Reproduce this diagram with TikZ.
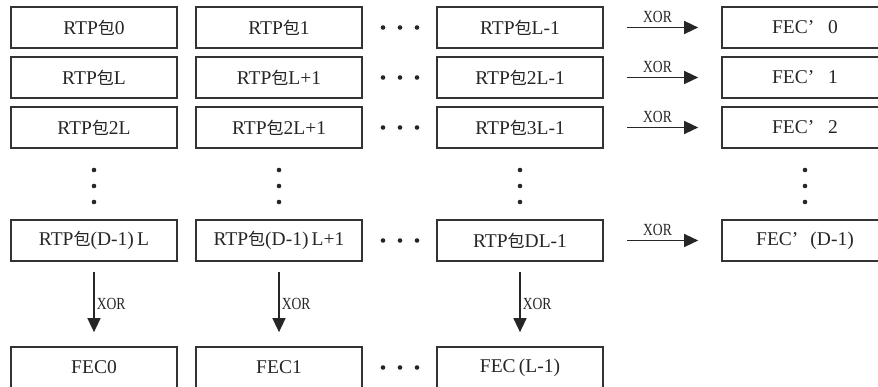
\documentclass[tikz,border=0pt]{standalone}
\usepackage{fontspec}
\setmainfont{Liberation Serif}
\newfontfamily\cjk{Noto Sans CJK SC}
\newfontfamily\xorfont[FakeStretch=0.8]{Liberation Serif}
\usetikzlibrary{arrows.meta}
\newcommand{\bao}{{\cjk\fontsize{17}{17}\selectfont 包}}
\begin{document}
\begin{tikzpicture}[x=1pt,y=-1pt,
  cell/.style={draw=black!80,line width=1.7pt,minimum width=166pt,minimum height=41pt,
    inner sep=0pt,font=\fontsize{19.5}{21}\selectfont,text=black!85},
  arr/.style={draw=black!85,line width=1.5pt,-{Triangle[length=14pt,width=13pt]}},
  lab/.style={font=\xorfont\fontsize{17}{18}\selectfont,text=black!85,inner sep=1pt},
  dot/.style={fill=black!85,draw=none,circle,minimum size=4.6pt,inner sep=0pt}]
\useasboundingbox (0,0) rectangle (878,387);
\clip (0,0) rectangle (878,387);
\fill[white] (0,0) rectangle (878,387);
% column centres: 94, 279, 520, 805 ; row centres: 27.5, 77.5, 127.5, 240.5, 367.5
\node[cell] (a1) at (94,27.5) {RTP\bao 0};
\node[cell] (b1) at (279,27.5) {RTP\bao 1};
\node[cell] (c1) at (520,27.5) {RTP\bao L-1};
\node[cell] (d1) at (805,27.5) {FEC’\hspace{14pt}0};
\node[cell] (a2) at (94,77.5) {RTP\bao L};
\node[cell] (b2) at (279,77.5) {RTP\bao L+1};
\node[cell] (c2) at (520,77.5) {RTP\bao 2L-1};
\node[cell] (d2) at (805,77.5) {FEC’\hspace{14pt}1};
\node[cell] (a3) at (94,127.5) {RTP\bao 2L};
\node[cell] (b3) at (279,127.5) {RTP\bao 2L+1};
\node[cell] (c3) at (520,127.5) {RTP\bao 3L-1};
\node[cell] (d3) at (805,127.5) {FEC’\hspace{14pt}2};
\node[cell] (a4) at (94,240.5) {RTP\bao(D-1)\,L};
\node[cell] (b4) at (279,240.5) {RTP\bao(D-1)\,L+1};
\node[cell] (c4) at (520,240.5) {RTP\bao DL-1};
\node[cell] (d4) at (805,240.5) {FEC’\hspace{12pt}(D-1)};
\node[cell] (a5) at (94,367.5) {FEC0};
\node[cell] (b5) at (279,367.5) {FEC1};
\node[cell] (c5) at (520,367.5) {FEC\,(L-1)};
% horizontal XOR arrows
\foreach \r in {1,2,3,4}{
  \draw[arr,shorten <=23pt,shorten >=23pt] (c\r.east) -- (d\r.west)
    node[lab,midway,above=3pt,xshift=-5pt] {XOR};
}
% vertical XOR arrows
\foreach \c in {a,b,c}{
  \draw[arr,shorten <=10pt,shorten >=14pt] (\c4.south) -- (\c5.north)
    node[lab,pos=0.5,right=1pt] {XOR};
}
% horizontal ellipses
\foreach \y [count=\i] in {27.5,77.5,127.5,240.5,367.5}{
  \foreach \x in {383,400,417}{
    \node[dot] (h\i-\x) at (\x,\y) {};
  }
}
% vertical ellipses
\foreach \x [count=\i] in {94,279,520,805}{
  \foreach \y in {170,186,202}{
    \node[dot] (v\i-\y) at (\x,\y) {};
  }
}
\end{tikzpicture}
\end{document}
